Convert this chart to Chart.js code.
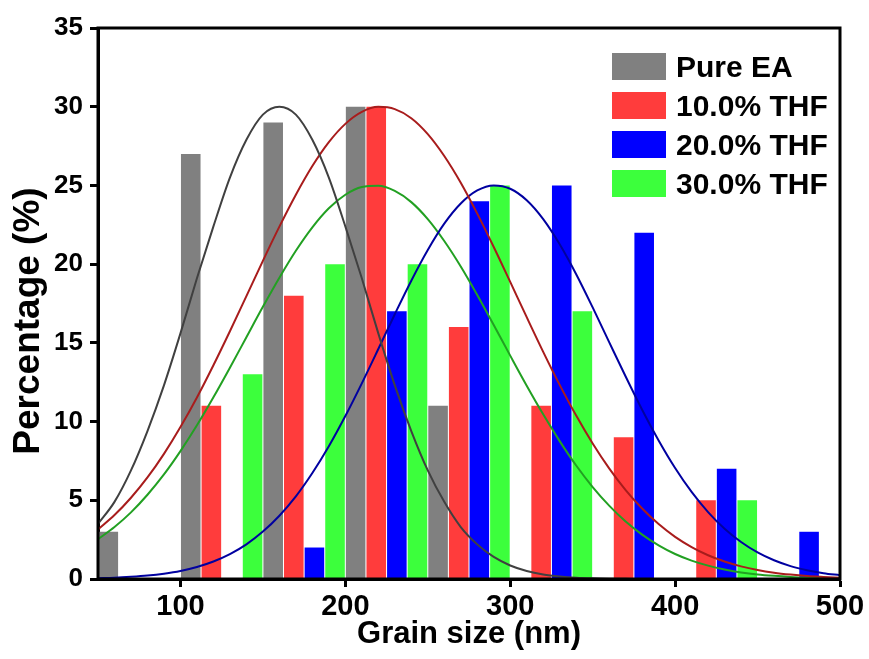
<!DOCTYPE html>
<html>
<head>
<meta charset="utf-8">
<script src="https://cdn.jsdelivr.net/npm/chart.js@4.4.1/dist/chart.umd.min.js"></script>
<style>
  html, body { margin: 0; padding: 0; background: #fff; }
  #wrap { width: 869px; height: 659px; }
</style>
</head>
<body>
<div id="wrap"><canvas id="grainChart" width="869" height="659"></canvas></div>
<script>
// Histogram bins (nm) and percentages per sample
const binCenters = [75, 125, 175, 225, 275, 325, 375, 425, 475];
const pureEA = [3, 27, 29, 30, 11, null, null, null, null];
const thf10  = [null, 11, 18, 30, 16, 11, 9, 5, null];
const thf20  = [null, null, 2, 17, 24, 25, 22, 7, 3];
const thf30  = [null, 13, 20, 20, 25, 17, null, 5, null];

const xTicks = [100, 200, 300, 400, 500];

// Fit curves, every 10 nm
const curveX = [50, 60, 70, 80, 90, 100, 110, 120, 130, 140, 150, 160, 170, 180, 190, 200,
  210, 220, 230, 240, 250, 260, 270, 280, 290, 300, 310, 320, 330, 340, 350, 360, 370, 380,
  390, 400, 410, 420, 430, 440, 450, 460, 470, 480, 490, 500];
const fitPureEA = [3.5, 4.9, 6.9, 9.4, 12.3, 15.6, 19.1, 22.4, 25.5, 27.9, 29.5, 30, 29.5, 27.9,
  25.5, 22.4, 19.1, 15.6, 12.3, 9.4, 6.9, 4.9, 3.3, 2.2, 1.4, 0.86, 0.51, 0.29, 0.16, 0.08,
  0.04, 0.02, 0.01, 0, 0, 0, 0, 0, 0, 0, 0, 0, 0, 0, 0, 0];
const fitTHF10 = [3.15, 4.06, 5.16, 6.45, 7.95, 9.65, 11.53, 13.58, 15.74, 17.97, 20.21, 22.38,
  24.41, 26.23, 27.75, 28.91, 29.67, 29.99, 29.85, 29.27, 28.26, 26.87, 25.17, 23.21, 21.09,
  18.87, 16.63, 14.43, 12.33, 10.38, 8.61, 7.03, 5.65, 4.48, 3.49, 2.68, 2.03, 1.51, 1.11,
  0.8, 0.57, 0.4, 0.28, 0.19, 0.13, 0.08];
const fitTHF20 = [0.05, 0.08, 0.14, 0.22, 0.34, 0.51, 0.76, 1.11, 1.58, 2.2, 3.01, 4.02, 5.25,
  6.73, 8.43, 10.35, 12.43, 14.61, 16.82, 18.95, 20.9, 22.57, 23.85, 24.68, 25, 24.79, 24.06,
  22.86, 21.26, 19.36, 17.25, 15.05, 12.86, 10.75, 8.8, 7.05, 5.53, 4.25, 3.19, 2.35, 1.69,
  1.19, 0.82, 0.56, 0.37, 0.24];
const fitTHF30 = [2.53, 3.3, 4.23, 5.35, 6.64, 8.12, 9.76, 11.54, 13.42, 15.36, 17.29, 19.14,
  20.85, 22.34, 23.55, 24.41, 24.9, 24.98, 24.65, 23.94, 22.86, 21.47, 19.85, 18.04, 16.13,
  14.19, 12.28, 10.46, 8.76, 7.21, 5.84, 4.66, 3.65, 2.82, 2.14, 1.59, 1.17, 0.85, 0.6, 0.42,
  0.29, 0.2, 0.13, 0.08, 0.05, 0.03];

const FONT = "'Liberation Sans', Arial, sans-serif";

const barColors = ['#808080', '#ff3c3c', '#0000ff', '#3cff3c'];
const curveColors = ['#404040', '#a81c1c', '#0000a0', '#22a022'];

function toPoints(xs, ys) {
  return xs.map((x, i) => ({ x, y: ys[i] }));
}

function barSet(label, values, color) {
  return {
    type: 'bar',
    label,
    data: toPoints(binCenters, values),
    backgroundColor: color,
    borderWidth: 0,
    barPercentage: 0.95,
    categoryPercentage: 1,
    order: 2
  };
}

function curveSet(values, color) {
  return {
    type: 'line',
    label: '',
    data: toPoints(curveX, values),
    borderColor: color,
    borderWidth: 2,
    pointRadius: 0,
    fill: false,
    cubicInterpolationMode: 'monotone',
    order: 1
  };
}

// frame around the plot, legend and rotated y title
const decorPlugin = {
  id: 'decor',
  afterDraw(chart) {
    const { ctx, chartArea: a } = chart;
    ctx.save();
    ctx.strokeStyle = '#000';
    ctx.lineWidth = 3;
    ctx.strokeRect(a.left, a.top, a.right - a.left, a.bottom - a.top);

    // legend
    const bars = chart.data.datasets.filter(d => d.type === 'bar');
    ctx.font = 'bold 30px ' + FONT;
    ctx.textBaseline = 'alphabetic';
    ctx.textAlign = 'left';
    bars.forEach((d, i) => {
      const y = 53 + i * 39;
      ctx.fillStyle = d.backgroundColor;
      ctx.fillRect(612, y, 54, 27);
      ctx.fillStyle = '#000';
      ctx.fillText(d.label, 676, y + 24);
    });

    // y axis title
    ctx.translate(29, 321);
    ctx.rotate(-Math.PI / 2);
    ctx.font = 'bold 37px ' + FONT;
    ctx.textAlign = 'center';
    ctx.textBaseline = 'middle';
    ctx.fillStyle = '#000';
    ctx.fillText('Percentage (%)', 0, 0);
    ctx.restore();
  }
};

new Chart(document.getElementById('grainChart'), {
  type: 'bar',
  data: {
    datasets: [
      barSet('Pure EA', pureEA, barColors[0]),
      barSet('10.0% THF', thf10, barColors[1]),
      barSet('20.0% THF', thf20, barColors[2]),
      barSet('30.0% THF', thf30, barColors[3]),
      curveSet(fitPureEA, curveColors[0]),
      curveSet(fitTHF10, curveColors[1]),
      curveSet(fitTHF20, curveColors[2]),
      curveSet(fitTHF30, curveColors[3])
    ]
  },
  options: {
    responsive: false,
    devicePixelRatio: 1,
    animation: false,
    layout: { padding: { top: 28, right: 29, left: 0, bottom: 0 } },
    plugins: {
      legend: { display: false },
      tooltip: { enabled: false }
    },
    scales: {
      x: {
        type: 'linear',
        min: 50,
        max: 500,
        offset: false,
        grid: { offset: false, drawOnChartArea: false, drawTicks: true, tickLength: 8, tickWidth: 3, tickColor: '#000' },
        border: { display: true, color: '#000', width: 3 },
        afterBuildTicks: scale => { scale.ticks = xTicks.map(v => ({ value: v })); },
        afterFit: scale => { scale.height = 80; },
        ticks: {
          color: '#000',
          padding: 3,
          maxRotation: 0,
          font: { family: FONT, size: 29, weight: 'bold' }
        },
        title: {
          display: true,
          text: 'Grain size (nm)',
          color: '#000',
          padding: { top: 0, bottom: 6 },
          font: { family: FONT, size: 31, weight: 'bold' }
        }
      },
      y: {
        min: 0,
        max: 35,
        grid: { drawOnChartArea: false, drawTicks: true, tickLength: 8, tickWidth: 3, tickColor: '#000' },
        border: { display: true, color: '#000', width: 3 },
        afterFit: scale => { scale.width = 98; },
        ticks: {
          stepSize: 5,
          color: '#000',
          padding: 7,
          font: { family: FONT, size: 26, weight: 'bold' }
        }
      }
    }
  },
  plugins: [decorPlugin]
});
</script>
</body>
</html>
